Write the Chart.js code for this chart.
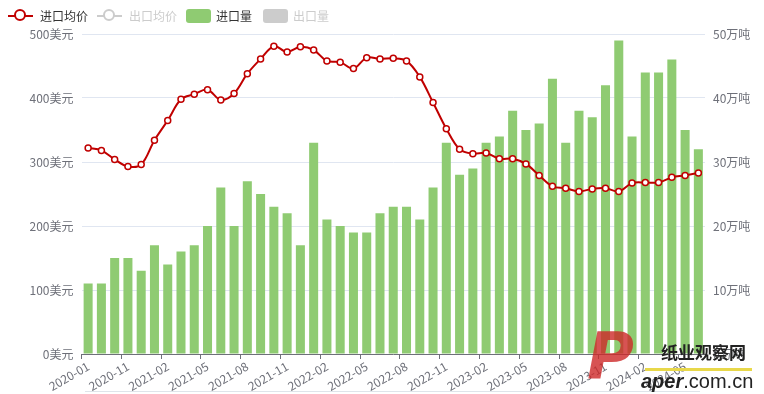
<!DOCTYPE html>
<html>
<head>
<meta charset="utf-8">
<script src="https://cdn.jsdelivr.net/npm/chart.js@4.4.1/dist/chart.umd.min.js"></script>
<style>
  body { margin: 0; background: #fff; font-family: "Noto Sans CJK SC", "Noto Sans", sans-serif; }
  #wrap { position: relative; width: 764px; height: 394px; overflow: hidden; }
  #chartCanvas { position: absolute; left: 0; top: 0; }
  .lg { position: absolute; top: 7px; height: 18px; font-size: 12px; line-height: 18px; white-space: nowrap; }
  .lg .line { position: absolute; top: 8px; width: 25px; height: 2px; }
  .lg .dot { position: absolute; top: 3px; left: 7px; width: 8px; height: 8px; border-radius: 50%; background: #fff; }
  .lg .rect { position: absolute; top: 2px; width: 25px; height: 14px; border-radius: 3px; }
  .lg span.t { position: absolute; left: 32px; top: 0; }
  #bottomLine { position: absolute; left: 85px; top: 391px; width: 615px; height: 1px; background: #dfe4ea; }
  #mark { position: absolute; left: 585px; top: 333px; width: 179px; height: 61px; }
  #mark .p { position: absolute; left: 2px; top: -14px; font: italic bold 64px "DejaVu Sans", sans-serif; color: rgba(205, 40, 40, 0.8); }
  #mark .cn { position: absolute; left: 76px; top: 6px; font: bold 17px "Noto Sans CJK SC", sans-serif; color: #222; letter-spacing: 0px; }
  #mark .bar { position: absolute; left: 60px; top: 35px; width: 107px; height: 3px; background: #e8d84a; }
  #mark .en { position: absolute; left: 56px; top: 37px; font: 20px "Liberation Sans", sans-serif; color: #222; }
  #mark .en b { font-style: italic; }
</style>
</head>
<body>
<div id="wrap">
  <canvas id="chartCanvas" width="764" height="394"></canvas>

  <div class="lg" style="left:8px;width:90px;">
    <div class="line" style="left:0;background:#c00000;"></div>
    <div class="dot" style="border:2px solid #c00000;left:6px;top:2px;"></div>
    <span class="t" style="color:#333;">进口均价</span>
  </div>
  <div class="lg" style="left:97px;width:90px;">
    <div class="line" style="left:0;background:#ccc;"></div>
    <div class="dot" style="border:2px solid #ccc;left:6px;top:2px;"></div>
    <span class="t" style="color:#ccc;">出口均价</span>
  </div>
  <div class="lg" style="left:186px;width:80px;">
    <div class="rect" style="left:0;background:#8fcb72;"></div>
    <span class="t" style="left:30px;color:#333;">进口量</span>
  </div>
  <div class="lg" style="left:263px;width:80px;">
    <div class="rect" style="left:0;background:#ccc;"></div>
    <span class="t" style="left:30px;color:#ccc;">出口量</span>
  </div>

  <div id="bottomLine"></div>

  <div id="mark">
    <div class="p">P</div>
    <div class="cn">纸业观察网</div>
    <div class="bar"></div>
    <div class="en"><b>aper</b>.com.cn</div>
  </div>
</div>

<script>
// months (2020-02 ~ 2020-08 not in source data)
const months = [
    '2020-01', '2020-09', '2020-10', '2020-11', '2020-12',
    '2021-01', '2021-02', '2021-03', '2021-04', '2021-05', '2021-06', '2021-07',
    '2021-08', '2021-09', '2021-10', '2021-11', '2021-12',
    '2022-01', '2022-02', '2022-03', '2022-04', '2022-05', '2022-06', '2022-07',
    '2022-08', '2022-09', '2022-10', '2022-11', '2022-12',
    '2023-01', '2023-02', '2023-03', '2023-04', '2023-05', '2023-06', '2023-07',
    '2023-08', '2023-09', '2023-10', '2023-11', '2023-12',
    '2024-01', '2024-02', '2024-03', '2024-04', '2024-05', '2024-06'
];

// 进口均价 (美元/吨)
const importPrice = [
    322, 318, 304, 293, 296, 334, 365, 398, 406, 413, 397, 407,
    438, 461, 481, 472, 480, 475, 458, 456, 446, 463, 461, 462,
    458, 433, 393, 352, 320, 313, 314, 305, 305, 297, 279, 262,
    259, 254, 258, 259, 254, 267, 268, 268, 276, 279, 283
];

// 进口量 (万吨)
const importVolume = [
    11, 11, 15, 15, 13, 17, 14, 16, 17, 20, 26, 20,
    27, 25, 23, 22, 17, 33, 21, 20, 19, 19, 22, 23,
    23, 21, 26, 33, 28, 29, 33, 34, 38, 35, 36, 43,
    33, 38, 37, 42, 49, 34, 44, 44, 46, 35, 32
];

const priceTicks = [0, 100, 200, 300, 400, 500];
const volumeTicks = [0, 10, 20, 30, 40, 50];

const axisColor = '#6e7079';
const gridColor = '#e0e6f1';
const tickFont = { family: '"Noto Sans CJK SC", sans-serif', size: 12 };

window.onload = function () {
    const ctx = document.getElementById('chartCanvas').getContext('2d');

    new Chart(ctx, {
        type: 'bar',
        data: {
            labels: months,
            datasets: [
                {
                    type: 'line',
                    label: '进口均价',
                    data: importPrice,
                    yAxisID: 'yPrice',
                    borderColor: '#c00000',
                    borderWidth: 2,
                    backgroundColor: '#fff',
                    pointRadius: 3,
                    pointBorderWidth: 1.5,
                    pointBackgroundColor: '#fff',
                    pointBorderColor: '#c00000',
                    tension: 0.35,
                    order: 0
                },
                {
                    label: '进口量',
                    data: importVolume,
                    yAxisID: 'yVol',
                    backgroundColor: '#8fcb72',
                    barPercentage: 0.68,
                    categoryPercentage: 1,
                    order: 1
                }
            ]
        },
        options: {
            responsive: false,
            animation: false,
            layout: { padding: { top: 34, left: 0, right: 0, bottom: 0 } },
            plugins: {
                legend: { display: false },
                tooltip: { enabled: false }
            },
            scales: {
                x: {
                    offset: true,
                    border: { color: axisColor, width: 1 },
                    grid: {
                        offset: true,
                        drawOnChartArea: false,
                        drawTicks: true,
                        tickLength: 5,
                        color: (c) => (c.index % 3 === 0 ? axisColor : 'rgba(0,0,0,0)')
                    },
                    ticks: {
                        autoSkip: false,
                        maxRotation: 30,
                        minRotation: 30,
                        padding: 0,
                        color: axisColor,
                        font: tickFont,
                        callback: function (val, i) {
                            return i % 3 === 0 ? months[i] : '';
                        }
                    },
                    afterFit: function (scale) { scale.height = 40; }
                },
                yPrice: {
                    position: 'left',
                    min: 0,
                    max: 500,
                    afterBuildTicks: function (scale) {
                        scale.ticks = priceTicks.map(v => ({ value: v }));
                    },
                    border: { display: false },
                    grid: { color: gridColor, drawTicks: false },
                    ticks: {
                        padding: 8,
                        color: axisColor,
                        font: tickFont,
                        callback: (v) => v + '美元'
                    },
                    afterFit: function (scale) { scale.width = 81.5; }
                },
                yVol: {
                    position: 'right',
                    min: 0,
                    max: 50,
                    afterBuildTicks: function (scale) {
                        scale.ticks = volumeTicks.map(v => ({ value: v }));
                    },
                    border: { display: false },
                    grid: { drawOnChartArea: false, drawTicks: false },
                    ticks: {
                        padding: 8,
                        color: axisColor,
                        font: tickFont,
                        callback: (v) => v + '万吨'
                    },
                    afterFit: function (scale) { scale.width = 59; }
                }
            }
        }
    });
};
</script>
</body>
</html>
